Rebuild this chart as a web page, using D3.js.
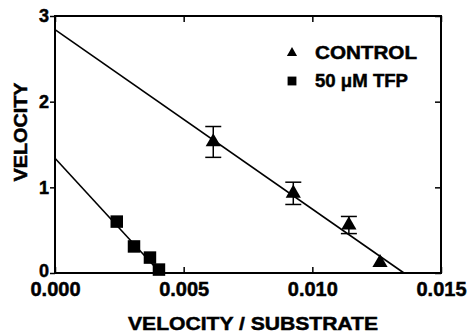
<!DOCTYPE html>
<html>
<head>
<meta charset="utf-8">
<title>Velocity vs velocity / substrate</title>
<script src="https://cdn.jsdelivr.net/npm/d3@7"></script>
<style>
  body { margin: 0; background: #fff; }
  text { font-family: "Liberation Sans", Arial, sans-serif; font-weight: bold; fill: #000;
         stroke: #000; stroke-width: 0.5px; }
</style>
</head>
<body>
<div id="chart"></div>
<script>
// control (triangles)
var controlX = [0.00615, 0.00926, 0.01142, 0.01263];
var controlY = [1.53, 0.93, 0.56, 0.12];
var controlErr = [0.18, 0.13, 0.10, 0.0];
// 50 uM TFP (squares)
var tfpX = [0.0024, 0.00307, 0.00369, 0.00404];
var tfpY = [0.60, 0.31, 0.18, 0.04];
// fitted lines: [x, y] end points
var controlFit = [[0, 2.84], [0.01356, 0]];
var tfpFit = [[0, 1.34], [0.0041, 0]];

var xTicks = [0, 0.005, 0.010, 0.015];
var yTicks = [0, 1, 2, 3];
var legendLabels = ["CONTROL", "50 \u03BCM TFP"];

drawChart();

function drawChart() {
    var W = 470, H = 335;
    var pLeft = 55, pRight = 441, pTop = 16, pBottom = 273;

    var svg = d3.select("#chart").append("svg")
        .attr("width", W).attr("height", H);

    var x = d3.scaleLinear().domain([0, 0.015]).range([pLeft, pRight]);
    var y = d3.scaleLinear().domain([0, 3]).range([pBottom, pTop]);

    function styleAxis(g) {
        g.select(".domain").remove();
        g.selectAll(".tick line").attr("stroke", "#000").attr("stroke-width", 1.5);
    }

    // mirrored ticks
    svg.append("g").attr("transform", "translate(0," + pBottom + ")")
        .call(d3.axisBottom(x).tickValues(xTicks).tickSize(-6)
            .tickFormat(d3.format(".3f")))
        .call(styleAxis)
        .selectAll("text").attr("font-size", 20).attr("dy", "0.71em")
        .attr("y", 9);
    svg.append("g").attr("transform", "translate(0," + pTop + ")")
        .call(d3.axisTop(x).tickValues(xTicks).tickSize(-6).tickFormat(""))
        .call(styleAxis);
    svg.append("g").attr("transform", "translate(" + pLeft + ",0)")
        .call(d3.axisLeft(y).tickValues(yTicks).tickSize(5).tickPadding(1)
            .tickFormat(d3.format("d")))
        .call(styleAxis)
        .selectAll("text").attr("font-size", 18)
        .attr("dy", function(d) { return d === 0 ? "0.2em" : "0.32em"; });
    svg.append("g").attr("transform", "translate(" + pRight + ",0)")
        .call(d3.axisRight(y).tickValues(yTicks).tickSize(-6).tickFormat(""))
        .call(styleAxis);

    svg.selectAll(".tick text").attr("font-family", "Liberation Sans, Arial, sans-serif")
        .attr("font-weight", "bold").attr("fill", "#000");

    // frame
    svg.append("rect")
        .attr("x", pLeft).attr("y", pTop)
        .attr("width", pRight - pLeft).attr("height", pBottom - pTop)
        .attr("fill", "none").attr("stroke", "#000").attr("stroke-width", 2);

    // fit lines
    var line = d3.line().x(function(d) { return x(d[0]); }).y(function(d) { return y(d[1]); });
    [controlFit, tfpFit].forEach(function(f) {
        svg.append("path").attr("d", line(f))
            .attr("fill", "none").attr("stroke", "#000").attr("stroke-width", 1.6);
    });

    // error bars
    var control = controlX.map(function(v, i) { return {x: v, y: controlY[i], e: controlErr[i]}; });
    var eb = svg.append("g").attr("stroke", "#000").attr("stroke-width", 1.5);
    control.filter(function(d) { return d.e > 0; }).forEach(function(d) {
        eb.append("line").attr("x1", x(d.x)).attr("x2", x(d.x))
            .attr("y1", y(d.y - d.e)).attr("y2", y(d.y + d.e));
        [d.y - d.e, d.y + d.e].forEach(function(v) {
            eb.append("line").attr("x1", x(d.x) - 8).attr("x2", x(d.x) + 8)
                .attr("y1", y(v)).attr("y2", y(v));
        });
    });

    // markers
    svg.selectAll(".tri").data(control).enter().append("path")
        .attr("class", "tri")
        .attr("d", d3.symbol().type(d3.symbolTriangle).size(100))
        .attr("transform", function(d) { return "translate(" + x(d.x) + "," + y(d.y) + ")"; })
        .attr("fill", "#000");

    var tfp = tfpX.map(function(v, i) { return {x: v, y: tfpY[i]}; });
    svg.selectAll(".sq").data(tfp).enter().append("path")
        .attr("class", "sq")
        .attr("d", d3.symbol().type(d3.symbolSquare).size(156))
        .attr("transform", function(d) { return "translate(" + x(d.x) + "," + y(d.y) + ")"; })
        .attr("fill", "#000");

    // legend
    var legendSyms = [d3.symbolTriangle, d3.symbolSquare];
    var legendSizes = [45, 78];
    legendLabels.forEach(function(lab, i) {
        var ly = 53 + i * 28;
        svg.append("path")
            .attr("d", d3.symbol().type(legendSyms[i]).size(legendSizes[i]))
            .attr("transform", "translate(292," + ly + ")")
            .attr("fill", "#000");
        svg.append("text").attr("x", 315).attr("y", ly + 6)
            .attr("font-size", 19)
            .attr("textLength", i === 0 ? 102 : 93)
            .attr("lengthAdjust", "spacingAndGlyphs")
            .text(lab);
    });

    // axis titles
    svg.append("text")
        .attr("x", (pLeft + pRight) / 2 + 5).attr("y", 330)
        .attr("text-anchor", "middle").attr("font-size", 19)
        .attr("textLength", 250).attr("lengthAdjust", "spacingAndGlyphs")
        .text("VELOCITY / SUBSTRATE");
    svg.append("text")
        .attr("transform", "translate(27,132) rotate(-90)")
        .attr("text-anchor", "middle").attr("font-size", 18)
        .attr("textLength", 99).attr("lengthAdjust", "spacingAndGlyphs")
        .text("VELOCITY");
}
</script>
</body>
</html>
